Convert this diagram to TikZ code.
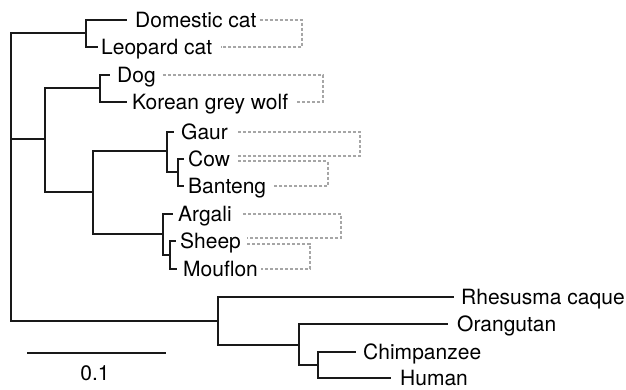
\documentclass[tikz,border=0pt]{standalone}
\usepackage{fontspec}
\setmainfont{TeX Gyre Heros}
\begin{document}
\begin{tikzpicture}[x=1pt,y=-1pt,
  tree/.style={draw=black!90, line width=1.4pt, line cap=rect},
  link/.style={draw=black!35, line width=2pt, dash pattern=on 3pt off 2pt},
  leaf/.style={inner sep=0pt, anchor=west, text height=15pt, text depth=0pt, font=\fontsize{21}{24}\selectfont}]
\useasboundingbox (0,0) rectangle (626,390);
% internal nodes
\coordinate (root) at (11,33);
\coordinate (rootb) at (11,321);
\coordinate (cat) at (86,33);
\coordinate (du) at (45,139);
\coordinate (dogn) at (100,88);
\coordinate (ung) at (93,192);
\coordinate (bov) at (167,151);
\coordinate (cb) at (178,172);
\coordinate (ovi) at (163,234);
\coordinate (sm) at (170,255);
\coordinate (pri) at (218,321);
\coordinate (ape) at (299,345);
\coordinate (ch) at (318,365);
% leaves
\node[leaf] (dom) at (135,20) {Domestic cat};
\node[leaf] (leo) at (101,47) {Leopard cat};
\node[leaf] (dog) at (117,75) {Dog};
\node[leaf] (kor) at (132,102) {Korean grey wolf};
\node[leaf] (gau) at (181,132) {Gaur};
\node[leaf] (cow) at (188,159) {Cow};
\node[leaf] (ban) at (188,186) {Banteng};
\node[leaf] (arg) at (178,214) {Argali};
\node[leaf] (she) at (180,241) {Sheep};
\node[leaf] (mou) at (183,269) {Mouflon};
\node[leaf] (rhe) at (461,297) {Rhesusma caque};
\node[leaf] (ora) at (457,324) {Orangutan};
\node[leaf] (chi) at (363,352) {Chimpanzee};
\node[leaf] (hum) at (400,378) {Human};
% tree
\draw[tree] (root) -- (rootb);
\draw[tree] (root) -- (cat);
\draw[tree] (cat) |- ([xshift=-9]dom.west);
\draw[tree] (cat) |- ([xshift=-4]leo.west);
\draw[tree] (du-|root) -- (du);
\draw[tree] (du) |- (dogn);
\draw[tree] (du) |- (ung);
\draw[tree] (dogn) |- ([xshift=-8]dog.west);
\draw[tree] (dogn) |- ([xshift=-6]kor.west);
\draw[tree] (ung) |- (bov);
\draw[tree] (ung) |- (ovi);
\draw[tree] (bov) |- ([xshift=-8]gau.west);
\draw[tree] (bov) |- (cb);
\draw[tree] (cb) |- ([xshift=-5]cow.west);
\draw[tree] (cb) |- ([xshift=-5]ban.west);
\draw[tree] (ovi) |- ([xshift=-6]arg.west);
\draw[tree] (ovi) |- (sm);
\draw[tree] (sm) |- ([xshift=-5]she.west);
\draw[tree] (sm) |- ([xshift=-7]mou.west);
\draw[tree] (rootb) -- (pri);
\draw[tree] (pri) |- ([xshift=-8]rhe.west);
\draw[tree] (pri) |- (ape);
\draw[tree] (ape) |- ([xshift=-10]ora.west);
\draw[tree] (ape) |- (ch);
\draw[tree] (ch) |- ([xshift=-8]chi.west);
\draw[tree] (ch) |- ([xshift=-10]hum.west);
% scale bar
\coordinate (sb1) at (27,353);
\coordinate (sb2) at (166,353);
\draw[tree, line cap=butt] (sb1) -- (sb2);
\node[leaf, anchor=center] (sbl) at (95,373) {0.1};
% dashed links
\coordinate (b1) at (302,0);
\coordinate (b2) at (323,0);
\coordinate (b3) at (360,0);
\coordinate (b4) at (328,0);
\coordinate (b5) at (341,0);
\coordinate (b6) at (310,0);
\coordinate (cowu) at ([yshift=2.5]cow.east);
\coordinate (cowl) at ([yshift=-2.5]cow.east);
\coordinate (sheu) at ([yshift=3]she.east);
\coordinate (shel) at ([yshift=-3]she.east);
\draw[link] ([xshift=3]dom.east) -- (b1|-dom.east) -- (b1|-leo.east) -- ([xshift=9]leo.east);
\draw[link] ([xshift=7]dog.east) -- (b2|-dog.east) -- (b2|-kor.east) -- ([xshift=7]kor.east);
\draw[link] ([xshift=10]gau.east) -- (b3|-gau.east) -- (b3|-cowu) -- ([xshift=8]cowu);
\draw[link] ([xshift=8]cowl) -- (b4|-cowl) -- (b4|-ban.east) -- ([xshift=7]ban.east);
\draw[link] ([xshift=11]arg.east) -- (b5|-arg.east) -- (b5|-sheu) -- ([xshift=6]sheu);
\draw[link] ([xshift=6]shel) -- (b6|-shel) -- (b6|-mou.east) -- ([xshift=3]mou.east);
\end{tikzpicture}
\end{document}
